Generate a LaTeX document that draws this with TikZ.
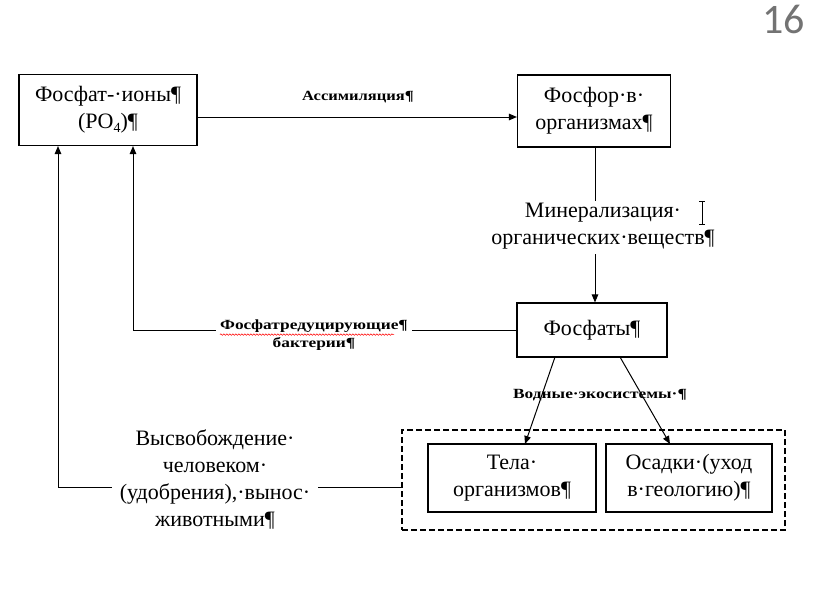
\documentclass[tikz,border=0pt]{standalone}
\usepackage{fontspec}
\setmainfont{Liberation Serif}
\newfontfamily\numfont{Carlito}
\usetikzlibrary{arrows.meta,decorations.pathmorphing}
\newcommand{\widetxt}[1]{\scalebox{1.24}[1]{#1}}
\begin{document}
\begin{tikzpicture}[x=1pt,y=-1pt,
  box/.style={draw, line width=1.1pt, inner sep=0pt, align=center, font=\rmfamily\fontsize{22}{27}\selectfont},
  lbl/.style={inner sep=0pt, align=center, font=\rmfamily\fontsize{22}{27}\selectfont},
  small/.style={inner sep=0pt, font=\rmfamily\fontsize{14}{18}\bfseries},
  con/.style={line width=1pt},
  arr/.style={line width=1pt, -{Triangle[length=8pt,width=6.5pt]}}]
\useasboundingbox (0,0) rectangle (816,613);
\node[text=black!55, font=\fontsize{42}{46}\numfont, anchor=base east, inner sep=0pt] (num) at (805,33) {16};
% boxes
\node[box, minimum width=178pt, minimum height=71pt] (b1) at (108,110) {Фосфат-·ионы¶\\(PO\raisebox{-0.35ex}{\fontsize{14}{14}\selectfont 4})¶};
\node[box, minimum width=153pt, minimum height=72pt] (b2) at (594,111) {Фосфор·в·\\организмах¶};
\node[box, minimum width=150pt, minimum height=54pt] (b3) at (592,330) {Фосфаты¶};
\node[draw, line width=1.1pt, dash pattern=on 6pt off 3pt, minimum width=383pt, minimum height=100pt, inner sep=0pt] (grp) at (593.5,480) {};
\node[box, minimum width=168pt, minimum height=68pt] (b4) at (512,478) {Тела·\\организмов¶};
\node[box, minimum width=166pt, minimum height=68pt] (b5) at (689,478) {Осадки·(уход\\в·геологию)¶};
% labels
\node[small] (as) at (358,97) {\scalebox{1.18}[1]{Ассимиляция¶}};
\node[lbl] (mn) at (603,226) {Минерализация·\\органических·веществ¶};
\node[small] (bA) at (314,326) {\widetxt{Фосфатредуцирующие¶}};
\node[small] (bB) at (314,344) {\widetxt{бактерии¶}};
\node[small] (vo) at (600,395) {\widetxt{Водные·экосистемы·¶}};
\node[lbl] (rel) at (215,480) {Высвобождение·\\человеком·\\(удобрения),·вынос·\\животными¶};
% red wavy underline
\draw[red, line width=0.5pt, decorate, decoration={snake, amplitude=0.8pt, segment length=3pt}] ([yshift=-2pt]bA.south west) -- ([yshift=-2pt,xshift=-14pt]bA.south east);
% text cursor
\draw[line width=0.8pt] (702,201) -- (702,224) (699,201) -- (705,201) (699,224) -- (705,224);
% connectors
\draw[arr] ([yshift=-7pt]b1.east) -- ([yshift=-6pt]b2.west);
\draw[con] (b2.south -| 595,0) -- (595,201);
\draw[arr] (595,254) -- (b3.north -| 595,0);
\coordinate (c1) at (133,330);
\draw[con] (b3.west |- c1) -- ([xshift=4pt]bA.east |- c1);
\draw[arr] ([xshift=-4pt]bA.west |- c1) -- (c1) -- (c1 |- b1.south);
\coordinate (c2) at (58,487);
\draw[arr] ([xshift=-8pt]rel.west |- c2) -- (c2) -- (c2 |- b1.south);
\draw[con] ([xshift=8pt]rel.east |- c2) -- (grp.west |- c2);
\draw[arr] (555,357) -- (525,444);
\draw[arr] (620,357) -- (670,444);
\end{tikzpicture}
\end{document}
